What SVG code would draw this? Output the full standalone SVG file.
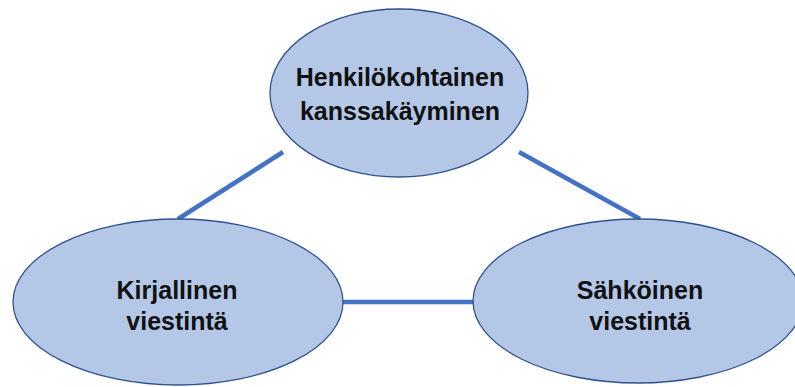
<svg xmlns="http://www.w3.org/2000/svg" width="795" height="387" viewBox="0 0 795 387">
  <style>
    .node ellipse { fill: #B4C7E7; stroke: #2F528F; stroke-width: 1.3; }
    .node text { font-family: "Liberation Sans", Arial, sans-serif; font-weight: bold; font-size: 25px; fill: #111; text-anchor: middle; }
    .edge { stroke: #4472C4; stroke-width: 4.5; stroke-linecap: butt; }
  </style>
  <rect width="795" height="387" fill="#fff"/>
  <g id="connectors">
    <line class="edge" x1="178" y1="219" x2="283" y2="152"/>
    <line class="edge" x1="519" y1="152" x2="640" y2="219"/>
    <line class="edge" x1="343" y1="302" x2="474" y2="302"/>
  </g>
  <g id="node-henkilokohtainen" class="node">
    <ellipse cx="399" cy="93" rx="129" ry="84"/>
    <text x="400" y="86">Henkilökohtainen</text>
    <text x="400" y="120">kanssakäyminen</text>
  </g>
  <g id="node-kirjallinen" class="node">
    <ellipse cx="178" cy="302" rx="165" ry="83"/>
    <text x="177" y="299">Kirjallinen</text>
    <text x="177" y="330">viestintä</text>
  </g>
  <g id="node-sahkoinen" class="node">
    <ellipse cx="638" cy="301" rx="165" ry="82"/>
    <text x="640" y="299">Sähköinen</text>
    <text x="640" y="330">viestintä</text>
  </g>
</svg>
